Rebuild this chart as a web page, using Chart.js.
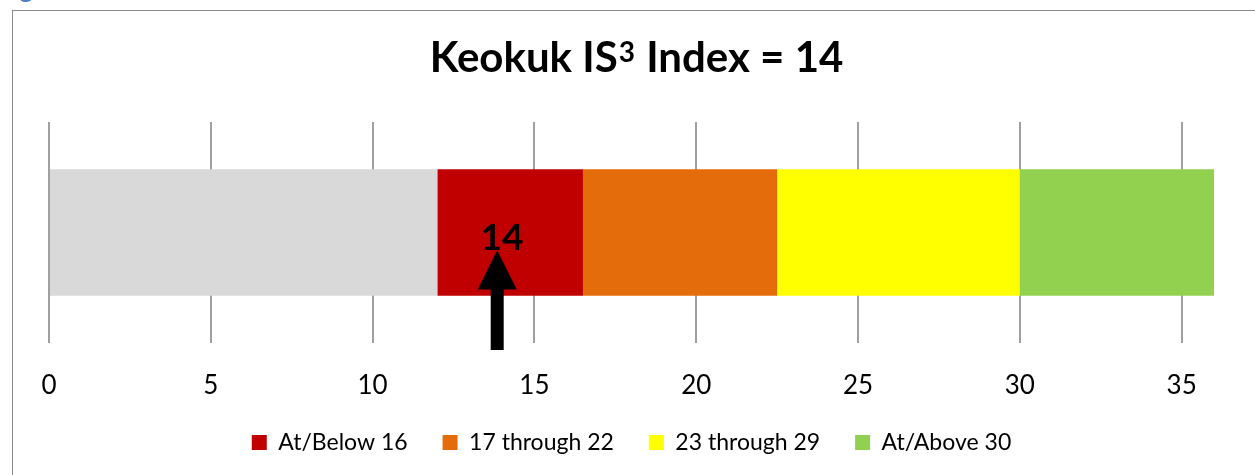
<!DOCTYPE html>
<html>
<head>
<meta charset="utf-8">
<script src="https://cdn.jsdelivr.net/npm/chart.js@4.4.1/dist/chart.umd.min.js"></script>
<style>
  html, body { margin: 0; padding: 0; background: #fff; width: 1255px; height: 475px; overflow: hidden; }
  #wrap { position: absolute; left: 0; top: 0; width: 1255px; height: 475px; }
  #frame { position: absolute; left: 12px; top: 10px; width: 1300px; height: 500px; border-left: 1.5px solid #8a8a8a; border-top: 1.5px solid #8a8a8a; box-sizing: border-box; }
  #cap { position: absolute; left: -2px; top: -27px; font: bold 26px Lato, sans-serif; line-height: 31px; color: #4f81bd; white-space: nowrap; }
  canvas { position: absolute; left: 0; top: 0; }
</style>
</head>
<body>
<div id="wrap">
  <div id="cap">Figure</div>
  <div id="frame"></div>
  <canvas id="c" width="1255" height="475"></canvas>
</div>
<script>
// ---- data ----
const categories = ['IS3'];
const segmentLabels = ['', 'At/Below 16', '17 through 22', '23 through 29', 'At/Above 30'];
const segmentValues = [12, 4.5, 6, 7.5, 6];   // stacked widths: 0-12, 12-16.5, 16.5-22.5, 22.5-30, 30-36
const segmentColors = ['#d9d9d9', '#c00000', '#e46c0a', '#ffff00', '#92d050'];
const tickLabels = [0, 5, 10, 15, 20, 25, 30, 35];
const indexValue = 14;          // value shown in title and label
const arrowPosition = 13.85;    // where the arrow sits on the axis
const axisMax = 36;
const titleParts = ['Keokuk IS', '3', ' Index = ' + indexValue];

const datasets = segmentLabels.map((lab, i) => ({
  label: lab,
  data: [segmentValues[i]],
  backgroundColor: segmentColors[i],
  borderWidth: 0,
  barPercentage: 0.572,
  categoryPercentage: 1.0
}));

// title with a real superscript
const supTitle = {
  id: 'supTitle',
  afterDraw(chart) {
    const ctx = chart.ctx;
    const big = 'bold 42px Lato, sans-serif';
    const small = 'bold 28px Lato, sans-serif';
    ctx.save();
    ctx.fillStyle = '#000';
    ctx.textBaseline = 'alphabetic';
    ctx.textAlign = 'left';
    ctx.font = big; const w0 = ctx.measureText(titleParts[0]).width;
    ctx.font = small; const w1 = ctx.measureText(titleParts[1]).width + 2;
    ctx.font = big; const w2 = ctx.measureText(titleParts[2]).width;
    const cx = (chart.chartArea.left + chart.chartArea.right) / 2 + 5;
    let x = cx - (w0 + w1 + w2) / 2;
    const base = 72;
    ctx.font = big; ctx.fillText(titleParts[0], x, base); x += w0 + 1;
    ctx.font = small; ctx.fillText(titleParts[1], x, base - 10); x += w1 - 1;
    ctx.font = big; ctx.fillText(titleParts[2], x, base);
    ctx.restore();
  }
};

const arrowPlugin = {
  id: 'arrowPlugin',
  afterDatasetsDraw(chart) {
    const ctx = chart.ctx;
    const x = chart.scales.x.getPixelForValue(arrowPosition);
    const bar = chart.getDatasetMeta(1).data[0];
    const h = bar.height;
    const top = bar.y - h / 2;
    const tipY = top + 0.64 * h;
    const baseY = top + 0.95 * h;
    const tailY = top + 1.43 * h;
    ctx.save();
    ctx.fillStyle = '#000';
    ctx.beginPath();
    ctx.moveTo(x, tipY);
    ctx.lineTo(x + 19.5, baseY);
    ctx.lineTo(x + 6.5, baseY);
    ctx.lineTo(x + 6.5, tailY);
    ctx.lineTo(x - 6.5, tailY);
    ctx.lineTo(x - 6.5, baseY);
    ctx.lineTo(x - 19.5, baseY);
    ctx.closePath();
    ctx.fill();
    const lx = chart.scales.x.getPixelForValue(indexValue);
    ctx.font = 'bold 37px Lato, sans-serif';
    ctx.textAlign = 'center';
    ctx.textBaseline = 'alphabetic';
    ctx.fillText(String(indexValue), lx, tipY);
    ctx.restore();
  }
};

new Chart(document.getElementById('c'), {
  type: 'bar',
  data: { labels: categories, datasets: datasets },
  options: {
    indexAxis: 'y',
    responsive: false,
    animation: false,
    devicePixelRatio: 1,
    layout: { padding: { left: 49, right: 41, top: 122, bottom: 11 } },
    scales: {
      x: {
        stacked: true,
        min: 0,
        max: axisMax,
        afterBuildTicks(scale) {
          scale.ticks = tickLabels.map(v => ({ value: v }));
        },
        afterFit(scale) { scale.height = 53; },
        ticks: {
          color: '#000',
          font: { family: 'Lato, sans-serif', size: 26 },
          padding: 27,
          maxRotation: 0
        },
        grid: { color: '#a0a0a0', lineWidth: 2, drawTicks: false },
        border: { display: false }
      },
      y: {
        stacked: true,
        display: false
      }
    },
    plugins: {
      title: { display: false },
      legend: {
        position: 'bottom',
        labels: {
          color: '#000',
          font: { family: 'Lato, sans-serif', size: 23 },
          boxWidth: 15,
          boxHeight: 15,
          padding: 35,
          filter: item => item.text !== ''
        }
      },
      tooltip: { enabled: false }
    }
  },
  plugins: [arrowPlugin, supTitle]
});
</script>
</body>
</html>
